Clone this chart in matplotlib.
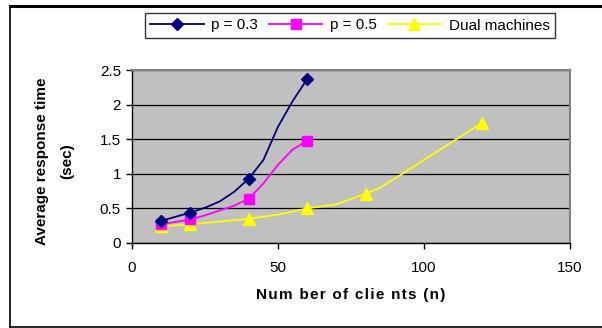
import matplotlib.pyplot as plt
from matplotlib.lines import Line2D

plt.rcParams['font.family'] = ['Liberation Sans', 'DejaVu Sans']

# p = 0.3 (markers at 10, 20, 40, 60)
p03_x = [10, 20, 25, 30, 35, 40, 45, 50, 55, 60]
p03_y = [0.32, 0.44, 0.51, 0.60, 0.74, 0.93, 1.20, 1.68, 2.05, 2.37]
p03_marks = [0, 1, 5, 9]

# p = 0.5
p05_x = [10, 20, 25, 30, 35, 40, 45, 50, 55, 60]
p05_y = [0.27, 0.34, 0.40, 0.47, 0.54, 0.64, 0.86, 1.13, 1.35, 1.48]
p05_marks = [0, 1, 5, 9]

# dual machines
dual_x = [10, 20, 40, 50, 60, 70, 80, 85, 90, 100, 110, 120]
dual_y = [0.24, 0.27, 0.35, 0.41, 0.50, 0.56, 0.71, 0.80, 0.93, 1.20, 1.47, 1.74]
dual_marks = [0, 1, 2, 4, 6, 11]

W, H = 602, 328
fig = plt.figure(figsize=(W / 100, H / 100), dpi=100)
fig.patch.set_facecolor('white')

# outer chart border
fig.add_artist(Line2D([10 / W, 1.0], [1 - 5.5 / H, 1 - 5.5 / H], color='black', lw=2.2))
fig.add_artist(Line2D([10 / W, 10 / W], [1 - 5.5 / H, 1 - 326.5 / H], color='black', lw=1.2))
fig.add_artist(Line2D([10 / W, 1.0], [1 - 326.5 / H, 1 - 326.5 / H], color='black', lw=1.2))

ax = fig.add_axes([132 / W, 1 - 243 / H, (570 - 132) / W, (243 - 70) / H])
ax.set_facecolor('#C0C0C0')

ax.plot(p03_x, p03_y, color='#000080', lw=1.3, marker='D', markersize=6.5,
        markevery=p03_marks, label='p = 0.3', zorder=5)
ax.plot(p05_x, p05_y, color='#FF00FF', lw=1.3, marker='s', markersize=7.5,
        markevery=p05_marks, label='p = 0.5', zorder=4)
ax.plot(dual_x, dual_y, color='#FFFF00', lw=1.3, marker='^', markersize=8.5,
        markevery=dual_marks, label='Dual machines', zorder=3)

ax.set_xlim(0, 150)
ax.set_ylim(0, 2.5)
ax.set_xticks([0, 50, 100, 150])
ax.set_yticks([0, 0.5, 1, 1.5, 2, 2.5])
ax.set_yticklabels(['0', '0.5', '1', '1.5', '2', '2.5'])
ax.yaxis.grid(True, color='black', lw=0.9)
ax.set_axisbelow(True)
ax.tick_params(axis='both', labelsize=11, length=4, width=1, color='black',
               direction='out', pad=4)
ax.tick_params(axis='x', pad=9)

for s in ['top', 'right']:
    ax.spines[s].set_color('#808080')
    ax.spines[s].set_linewidth(1.5)
for s in ['left', 'bottom']:
    ax.spines[s].set_color('black')
    ax.spines[s].set_linewidth(1.0)

# wide letter spacing like the original
xlabel = '\u200a'.join('Num ber of clie nts (n)')
ax.set_xlabel(xlabel, fontsize=11, fontweight='bold', labelpad=9)
fig.text(42 / W, 1 - 161 / H, 'Average response time', rotation=90,
         fontsize=11, fontweight='bold', ha='center', va='center')
fig.text(67 / W, 1 - 161 / H, '(sec)', rotation=90,
         fontsize=11, fontweight='bold', ha='center', va='center')

leg = fig.legend(loc='center', bbox_to_anchor=(350 / W, 1 - 25.5 / H), ncol=3,
                 fontsize=11, frameon=True, fancybox=False, edgecolor='black',
                 handlelength=3.5, columnspacing=0.7, handletextpad=0.5,
                 borderpad=0.35)
leg.get_frame().set_linewidth(1.0)

fig.savefig('out.png', dpi=100)
